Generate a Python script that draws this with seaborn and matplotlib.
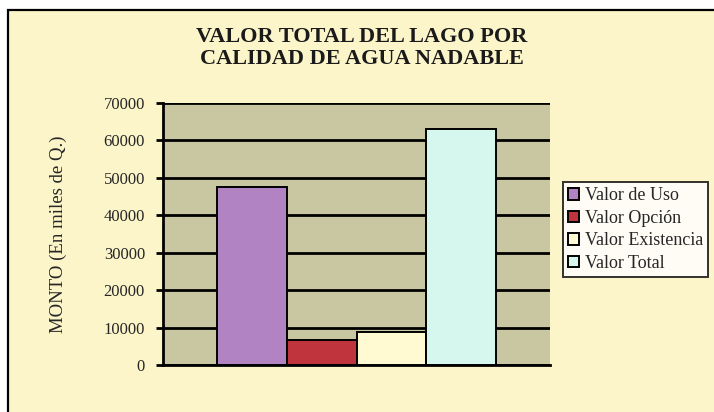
import pandas as pd
import numpy as np
import matplotlib.pyplot as plt
import seaborn as sns
from matplotlib.patches import Rectangle

# Data
componentes = ["Valor de Uso", "Valor Opción", "Valor Existencia", "Valor Total"]
montos = [47500, 6800, 8800, 63000]
colores = ["#B283C2", "#C0343E", "#FFFAD2", "#D6F7EE"]
yticks = [0, 10000, 20000, 30000, 40000, 50000, 60000, 70000]

df = pd.DataFrame({"grupo": [""] * len(componentes), "componente": componentes, "monto": montos})

sns.set_style("white")
plt.rcParams['font.family'] = ['Liberation Serif', 'DejaVu Serif']

fig = plt.figure(figsize=(7.14, 4.12), dpi=100)
fig.patch.set_facecolor("white")
# pale page background with the scanned frame on left/top
fig.patches.append(Rectangle((8 / 714, -0.1), 1.2, 1.1 - 10 / 412,
                             transform=fig.transFigure, facecolor="#FBF5C9",
                             edgecolor="black", lw=1.6, zorder=-1))

ax = fig.add_axes([163 / 714, 1 - 365 / 412, 387 / 714, 262 / 412])
ax.set_facecolor("#C9C6A2")

sns.barplot(data=df, x="grupo", y="monto", hue="componente", hue_order=componentes,
            palette=colores, width=0.72, edgecolor="black", linewidth=1.4,
            saturation=1, ax=ax, legend=True, zorder=3)

ax.set_ylim(0, 70000)
ax.set_yticks(yticks)
ax.set_yticklabels([str(t) for t in yticks], fontsize=12)
ax.yaxis.grid(True, color="black", lw=2)
ax.set_axisbelow(True)
ax.tick_params(axis="y", length=5, width=2, color="black", left=True, pad=8)
ax.tick_params(axis="x", length=0)
ax.set_xticklabels([])
ax.set_xlabel("")
ax.set_ylabel("MONTO (En miles de Q.)", fontsize=13.5, labelpad=26)
for s in ["top", "right"]:
    ax.spines[s].set_visible(False)
ax.spines["left"].set_color("black")
ax.spines["left"].set_linewidth(2)
ax.spines["bottom"].set_color("black")
ax.spines["bottom"].set_linewidth(2)

leg = ax.legend(loc="upper left", bbox_to_anchor=(563 / 714, 1 - 182 / 412),
                bbox_transform=fig.transFigure, frameon=True, fontsize=13,
                handlelength=0.6, handleheight=0.6, handletextpad=0.3,
                borderpad=0.3, labelspacing=0.3, borderaxespad=0, fancybox=False)
leg.get_frame().set_edgecolor("black")
leg.get_frame().set_linewidth(1.4)
leg.get_frame().set_facecolor("white")

fig.text(0.507, 1 - 48 / 412, "VALOR TOTAL DEL LAGO POR\nCALIDAD DE AGUA NADABLE",
         ha="center", va="center", fontsize=16, fontweight="bold",
         linespacing=1.1, color="#1a1a1a")

fig.savefig("out.png", dpi=100, facecolor=fig.get_facecolor())
